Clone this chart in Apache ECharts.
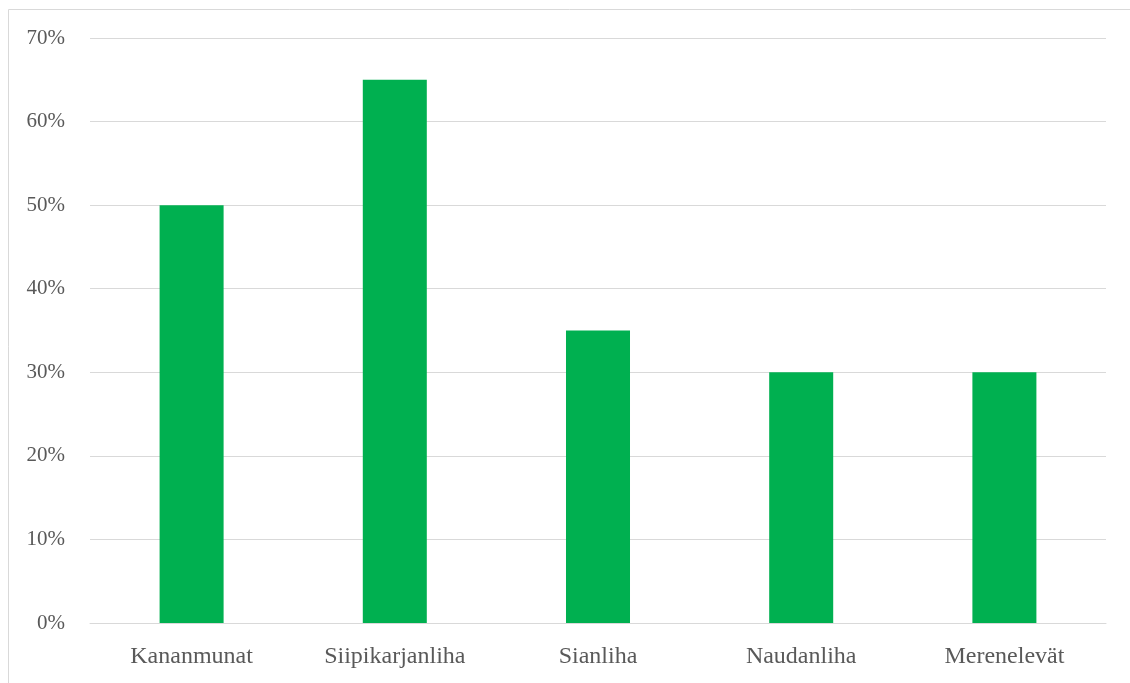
<!DOCTYPE html>
<html><head><meta charset="utf-8">
<script src="https://cdn.jsdelivr.net/npm/echarts@6/dist/echarts.min.js"></script>
<style>html,body{margin:0;padding:0;background:#fff}#c{width:1130px;height:683px}</style>
</head><body><div id="c"></div>
<script>
const categories = ['Kananmunat','Siipikarjanliha','Sianliha','Naudanliha','Merenelevät'];
const values = [50, 65, 35, 30, 30];
const yTicks = [0,10,20,30,40,50,60,70];
const chart = echarts.init(document.getElementById('c'));
const font = '"Liberation Serif", "DejaVu Serif", serif';
chart.setOption({
  animation:false,
  graphic:[{type:'rect',shape:{x:8.5,y:9.5,width:1130,height:700},style:{fill:'none',stroke:'#d9d9d9',lineWidth:1}}],
  grid:{left:90,right:24,top:38,bottom:60,containLabel:false},
  xAxis:{type:'category',data:categories,
    axisLine:{lineStyle:{color:'#d9d9d9',width:1}},axisTick:{show:false},
    axisLabel:{color:'#595959',fontSize:24,fontFamily:font,margin:22}},
  yAxis:{type:'value',min:0,max:70,interval:10,
    axisLine:{show:false},axisTick:{show:false},
    splitLine:{lineStyle:{color:'#d9d9d9',width:1}},
    axisLabel:{color:'#595959',fontSize:21,fontFamily:font,margin:25,formatter:v=>v+'%'}},
  series:[{type:'bar',data:values,barWidth:'31.5%',itemStyle:{color:'#00B050'}}]
});
</script></body></html>
